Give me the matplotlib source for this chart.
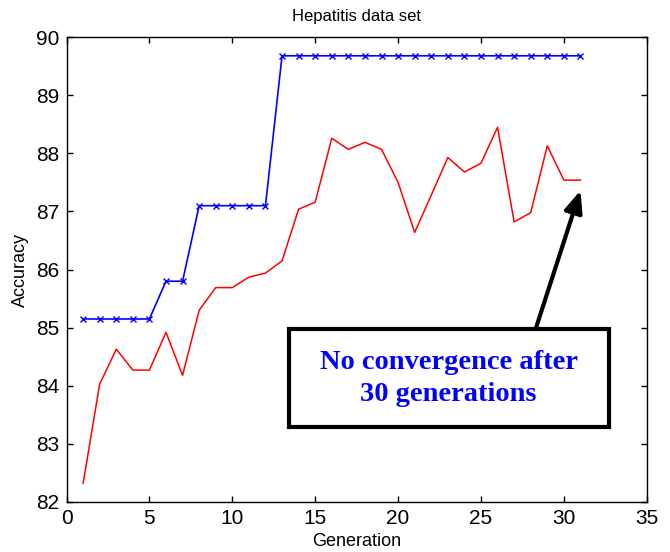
import matplotlib
matplotlib.use('Agg')
import matplotlib.pyplot as plt
from matplotlib.patches import Rectangle

plt.rcParams['font.family'] = ['Liberation Sans', 'DejaVu Sans']

# generation index
generation = list(range(1, 32))

# best accuracy found so far (blue, with x markers)
best_acc = [85.15, 85.15, 85.15, 85.15, 85.15,
            85.8, 85.8,
            87.1, 87.1, 87.1, 87.1, 87.1,
            89.68, 89.68, 89.68, 89.68, 89.68, 89.68, 89.68, 89.68,
            89.68, 89.68, 89.68, 89.68, 89.68, 89.68, 89.68, 89.68,
            89.68, 89.68, 89.68]

# average accuracy per generation (red)
mean_acc = [82.32, 84.03, 84.63, 84.27, 84.27, 84.92, 84.18, 85.3, 85.69, 85.69,
            85.87, 85.94, 86.15, 87.04, 87.16, 88.26, 88.07, 88.19, 88.07, 87.5,
            86.64, 87.28, 87.93, 87.68, 87.83, 88.45, 86.82, 86.98, 88.13, 87.54,
            87.54]

note = 'No convergence after\n30 generations'

fig = plt.figure(figsize=(6.7, 5.52), dpi=100)
ax = fig.add_axes([0.0993, 0.0906, 0.866, 0.842])

ax.plot(generation, best_acc, color='#0000ff', lw=1.2, marker='x', ms=5, mew=1.0)
ax.plot(generation, mean_acc, color='#ff0000', lw=1.1)

ax.set_xlim(0, 35)
ax.set_ylim(82, 90)
ax.set_xticks(range(0, 36, 5))
ax.set_yticks(range(82, 91))
ax.tick_params(direction='in', length=4, width=1.0, labelsize=15, pad=5,
               top=True, right=True)
for s in ax.spines.values():
    s.set_linewidth(1.0)

ax.set_title('Hepatitis data set', fontsize=12, pad=12)
ax.set_xlabel('Generation', fontsize=13, labelpad=4)
ax.set_ylabel('Accuracy', fontsize=13, labelpad=5)

# arrow pointing at the end of the red curve
ax.annotate('', xy=(31.0, 87.36), xytext=(28.3, 84.98),
            arrowprops=dict(arrowstyle='-|>,head_length=1.3,head_width=0.55',
                            color='black', lw=3, shrinkA=0, shrinkB=0))

ax.add_patch(Rectangle((13.4, 83.29), 32.7 - 13.4, 84.98 - 83.29,
                       fc='white', ec='black', lw=3, zorder=4))
ax.text(23.05, 84.13, note, ha='center', va='center', color='#0000ff',
        fontsize=20.5, fontweight='bold', family=['Liberation Serif'],
        linespacing=1.35, zorder=5)

fig.savefig('out.png', dpi=100)
